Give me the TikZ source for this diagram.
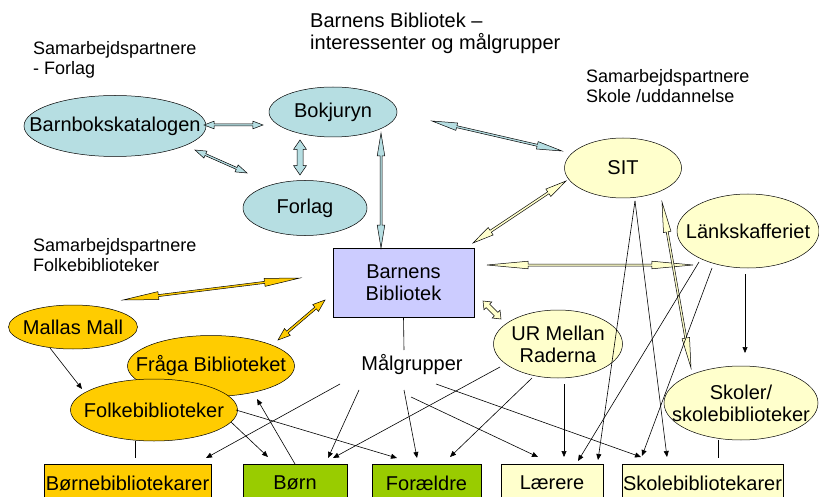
\documentclass[tikz,border=0pt]{standalone}
\usepackage{fontspec}
\setmainfont{Liberation Sans}
\usetikzlibrary{shapes.geometric,calc,arrows.meta}

\definecolor{tealfill}{RGB}{182,222,226}
\definecolor{lilac}{RGB}{204,204,255}
\definecolor{gold}{RGB}{255,204,0}
\definecolor{leaf}{RGB}{153,204,0}
\definecolor{cream}{RGB}{255,255,204}

% block arrow with two heads: fill, head part, shaft half width, head half width, from, to
\newcommand{\dblarrow}[6]{%
  \coordinate (da) at (#5);
  \coordinate (db) at (#6);
  \filldraw[fill=#1, draw=black, line width=0.5pt, line join=miter]
    (da) -- ($(da)!#2!(db)!#4!90:(db)$) -- ($(da)!#2!(db)!#3!90:(db)$)
    -- ($(db)!#2!(da)!#3!-90:(da)$) -- ($(db)!#2!(da)!#4!-90:(da)$)
    -- (db) -- ($(db)!#2!(da)!#4!90:(da)$) -- ($(db)!#2!(da)!#3!90:(da)$)
    -- ($(da)!#2!(db)!#3!-90:(db)$) -- ($(da)!#2!(db)!#4!-90:(db)$) -- cycle;}

\tikzset{
  every node/.style={font=\fontsize{20}{22}\selectfont},
  oval/.style={ellipse, draw, line width=0.5pt, inner xsep=-200pt, inner ysep=-100pt, align=center},
  tealoval/.style={oval, fill=tealfill},
  goldoval/.style={oval, fill=gold},
  creamoval/.style={oval, fill=cream},
  boxnode/.style={rectangle, draw, line width=0.5pt, inner sep=0pt, minimum height=38pt},
  label/.style={anchor=north west, inner sep=0pt, align=left, font=\fontsize{18}{20}\selectfont},
  conn/.style={draw, line width=0.6pt, -{Triangle[length=6pt,width=5pt]}},
  plainline/.style={draw, line width=0.6pt}
}

\begin{document}
\begin{tikzpicture}[x=1pt,y=-1pt]
    \useasboundingbox (0,0) rectangle (819,497);
    \clip (0,0) rectangle (819,497);

    % headings
    \node[label, font=\fontsize{20}{22}\selectfont] (title) at (310,13) {Barnens Bibliotek --\\interessenter og målgrupper};
    \node[label] (forlagtxt) at (33,41) {Samarbejdspartnere\\- Forlag};
    \node[label] (skoletxt) at (586,69) {Samarbejdspartnere\\Skole /uddannelse};
    \node[label] (folketxt) at (33,238) {Samarbejdspartnere\\Folkebiblioteker};

    % partners
    \node[tealoval, minimum width=182pt, minimum height=61pt] (katalog) at (115,126) {Barnbokskatalogen};
    \node[tealoval, minimum width=128pt, minimum height=50pt] (bokjuryn) at (333,112) {Bokjuryn};
    \node[tealoval, minimum width=124pt, minimum height=55pt] (forlag) at (305,208) {Forlag};

    \node[creamoval, minimum width=117pt, minimum height=60pt] (sit) at (623,168) {SIT};
    \node[creamoval, minimum width=142pt, minimum height=74pt] (laenk) at (748,231) {Länkskafferiet};
    \node[creamoval, minimum width=129pt, minimum height=68pt] (ur) at (558,344) {UR Mellan\\Raderna};
    \node[creamoval, minimum width=154pt, minimum height=74pt] (skoler) at (741,403) {Skoler/\\skolebiblioteker};

    \node[goldoval, minimum width=129pt, minimum height=44pt] (mallas) at (73,327) {Mallas Mall};
    \node[goldoval, minimum width=167pt, minimum height=61pt] (fraaga) at (211,366) {Fråga Biblioteket};
    \node[goldoval, minimum width=167pt, minimum height=62pt] (folke) at (154,410) {Folkebiblioteker};

    \node[rectangle, draw, line width=0.5pt, fill=lilac, align=center, minimum width=141pt, minimum height=69pt] (bb) at (403.5,282.5) {Barnens\\Bibliotek};
    \node (maal) at (412,365) {Målgrupper};

    % target groups
    \node[boxnode, fill=gold, minimum width=167pt] (bbk) at (127.5,483) {Børnebibliotekarer};
    \node[boxnode, fill=leaf, minimum width=104pt] (boern) at (295,483) {Børn};
    \node[boxnode, fill=leaf, minimum width=109pt] (foraeldre) at (426.5,483) {Forældre};
    \node[boxnode, fill=cream, minimum width=102pt] (laerere) at (552,483) {Lærere};
    \node[boxnode, fill=cream, minimum width=161pt] (skolebib) at (702.5,483) {Skolebibliotekarer};

    % block arrows
    \dblarrow{tealfill}{0.17}{1pt}{3.8pt}{$(katalog)+(89,-1)$}{$(bokjuryn)+(-70,13)$}
    \dblarrow{tealfill}{0.2}{1pt}{3.8pt}{$(katalog)+(80,24)$}{$(forlag)+(-58,-35)$}
    \dblarrow{tealfill}{0.27}{3pt}{6.5pt}{$(bokjuryn)+(-33,28)$}{$(forlag)+(-5,-33)$}
    \dblarrow{tealfill}{0.2}{1pt}{3.8pt}{$(bokjuryn)+(48,21)$}{$(bb)+(-22.5,-34.5)$}
    \dblarrow{tealfill}{0.19}{1pt}{3.8pt}{$(bokjuryn)+(99,9)$}{$(sit)+(-61,-17)$}
    \dblarrow{cream}{0.19}{1.2pt}{4.5pt}{$(sit)+(-57,13)$}{$(bb)+(69.5,-39.5)$}
    \dblarrow{cream}{0.2}{1pt}{3.8pt}{$(bb)+(83.5,-17.5)$}{$(laenk)+(-55,34)$}
    \dblarrow{cream}{0.18}{1pt}{3.8pt}{$(sit)+(39,34)$}{$(skoler)+(-50,-35)$}
    \dblarrow{cream}{0.27}{2.5pt}{5.5pt}{$(bb)+(79.5,18.5)$}{$(ur)+(-57,-25)$}
    \dblarrow{gold}{0.2}{1pt}{4pt}{$(mallas)+(50,-27)$}{$(bb)+(-103.5,-4.5)$}
    \dblarrow{gold}{0.2}{1.2pt}{4.5pt}{$(fraaga)+(67,-26)$}{$(bb)+(-78.5,17.5)$}

    % plain lines
    \draw[plainline] (bb.south) -- ($(maal)+(-8,-15)$);
    \draw[plainline] ($(folke)+(-19,31)$) -- ($(bbk)+(7.5,-25)$);
    \draw[plainline] ($(skoler)+(-23,37)$) -- ($(skolebib)+(15.5,-25)$);

    % arrows
    \draw[conn] ($(mallas)+(-23,21)$) -- ($(folke)+(-72,-21)$);
    \draw[conn] ($(folke)+(77,12)$) -- ($(boern)+(-27,-26)$);
    \draw[conn] ($(folke)+(82,0)$) -- ($(foraeldre)+(-29.5,-25)$);
    \draw[conn] ($(boern)+(0,-19)$) -- ($(fraaga)+(46,33)$);

    \draw[conn] ($(maal)+(-72,19)$) -- ($(bbk)+(78.5,-25)$);
    \draw[conn] ($(maal)+(-53,25)$) -- ($(boern)+(33,-25)$);
    \draw[conn] ($(maal)+(-8,25)$) -- ($(foraeldre)+(-9.5,-25)$);
    \draw[conn] ($(maal)+(-1,32)$) -- ($(laerere)+(-14,-26)$);
    \draw[conn] ($(maal)+(24,19)$) -- ($(skolebib)+(-61.5,-26)$);

    \draw[conn] ($(ur)+(-58,23)$) -- ($(boern)+(38,-25)$);
    \draw[conn] ($(ur)+(-26,34)$) -- ($(foraeldre)+(23.5,-26)$);
    \draw[conn] ($(ur)+(6,40)$) -- ($(laerere)+(12,-26)$);

    \draw[conn] ($(sit)+(12,33)$) -- ($(laerere)+(46,-23)$);
    \draw[conn] ($(sit)+(12,33)$) -- ($(skolebib)+(-35.5,-26)$);
    \draw[conn] ($(laenk)+(-49,31)$) -- ($(laerere)+(26,-22)$);
    \draw[conn] ($(laenk)+(-36,37)$) -- ($(skolebib)+(-60.5,-27)$);
    \draw[conn] ($(laenk)+(-3,43)$) -- ($(skoler)+(4,-50)$);
\end{tikzpicture}
\end{document}
